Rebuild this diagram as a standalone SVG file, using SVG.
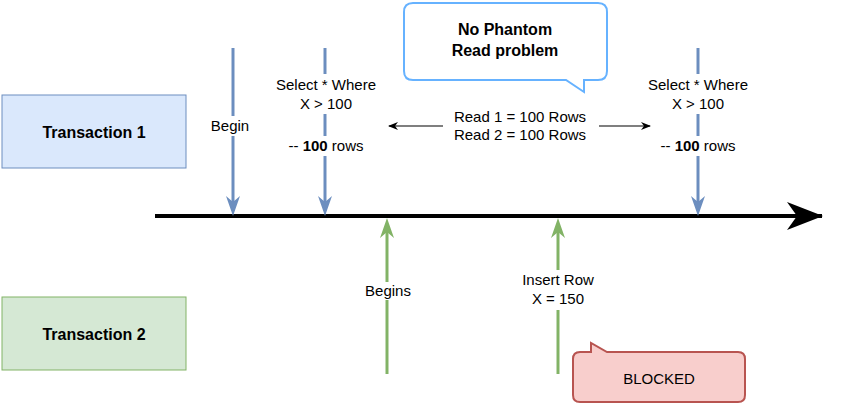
<svg xmlns="http://www.w3.org/2000/svg" width="850" height="406" viewBox="0 0 850 406">
<style>
text{font-family:"Liberation Sans",Arial,sans-serif;font-size:15px;fill:#000;text-anchor:middle}
.b{font-weight:bold}
.t{font-size:16px;font-weight:bold}
.blue{stroke:#6c8ebf;stroke-width:3;fill:none}
.green{stroke:#82b366;stroke-width:3;fill:none}
.hb{fill:#6c8ebf}
.hg{fill:#82b366}
</style>
<defs>
<marker id="mk" viewBox="0 0 36 28" refX="35" refY="14" markerWidth="36" markerHeight="28" markerUnits="userSpaceOnUse" orient="auto"><path d="M0,0 L36,14 L0,28 L10,14 Z" fill="#000"/></marker>
<marker id="ms" viewBox="0 0 10 8" refX="9" refY="4" markerWidth="10" markerHeight="8" markerUnits="userSpaceOnUse" orient="auto-start-reverse"><path d="M0,0 L10,4 L0,8 L3,4 Z" fill="#000"/></marker>
</defs>
<g id="t1"><rect x="2" y="95" width="184" height="73" fill="#dae8fc" stroke="#6c8ebf"/><text x="94" y="138" class="t">Transaction 1</text></g>
<g id="t2"><rect x="2" y="297" width="184" height="73" fill="#d5e8d4" stroke="#82b366"/><text x="94" y="340" class="t">Transaction 2</text></g>
<g id="connectors">
<line x1="155" y1="216" x2="822" y2="216" stroke="#000" stroke-width="4" marker-end="url(#mk)"/>
<line x1="233" y1="48" x2="233" y2="204" class="blue"/><path class="hb" d="M226,196 L233,216 L240,196 L233,202 Z"/>
<line x1="325" y1="48" x2="325" y2="204" class="blue"/><path class="hb" d="M318,196 L325,216 L332,196 L325,202 Z"/>
<line x1="698" y1="48" x2="698" y2="204" class="blue"/><path class="hb" d="M691,196 L698,216 L705,196 L698,202 Z"/>
<line x1="387" y1="374" x2="387" y2="230" class="green"/><path class="hg" d="M380,238 L387,218 L394,238 L387,232 Z"/>
<line x1="558" y1="374" x2="558" y2="230" class="green"/><path class="hg" d="M551,238 L558,218 L565,238 L558,232 Z"/>
<line x1="389" y1="126" x2="650" y2="126" stroke="#000" stroke-width="1.2" marker-start="url(#ms)" marker-end="url(#ms)"/>
</g>
<g id="labels">
<rect x="203" y="116" width="54" height="20" fill="#fff"/><text x="230" y="131">Begin</text>
<rect x="268" y="74" width="116" height="40" fill="#fff"/><text x="326" y="90">Select * Where</text><text x="326" y="109">X &gt; 100</text>
<rect x="276" y="136" width="100" height="20" fill="#fff"/><text x="326" y="151">-- <tspan class="b">100</tspan> rows</text>
<rect x="638" y="74" width="120" height="40" fill="#fff"/><text x="698" y="90">Select * Where</text><text x="698" y="109">X &gt; 100</text>
<rect x="648" y="136" width="100" height="20" fill="#fff"/><text x="698" y="151">-- <tspan class="b">100</tspan> rows</text>
<rect x="443" y="108" width="156" height="38" fill="#fff"/><text x="520" y="122">Read 1 = 100 Rows</text><text x="520" y="140">Read 2 = 100 Rows</text>
<rect x="360" y="282" width="56" height="18" fill="#fff"/><text x="388" y="296">Begins</text>
<rect x="514" y="270" width="90" height="40" fill="#fff"/><text x="558" y="285">Insert Row</text><text x="558" y="304">X = 150</text>
</g>
<g id="callout1"><path d="M413,3 H598 Q607,3 607,12 V71 Q607,80 598,80 H584 V92 L566,80 H413 Q404,80 404,71 V12 Q404,3 413,3 Z" fill="#fff" stroke="#66b2ff" stroke-width="2"/><text x="505" y="35" class="t">No Phantom</text><text x="505" y="56" class="t">Read problem</text></g>
<g id="callout2"><path d="M580,352 H591 V343 L607,352 H738 Q745,352 745,359 V395 Q745,402 738,402 H580 Q573,402 573,395 V359 Q573,352 580,352 Z" fill="#f8cecc" stroke="#b85450" stroke-width="2"/><text x="659" y="384">BLOCKED</text></g>
</svg>
